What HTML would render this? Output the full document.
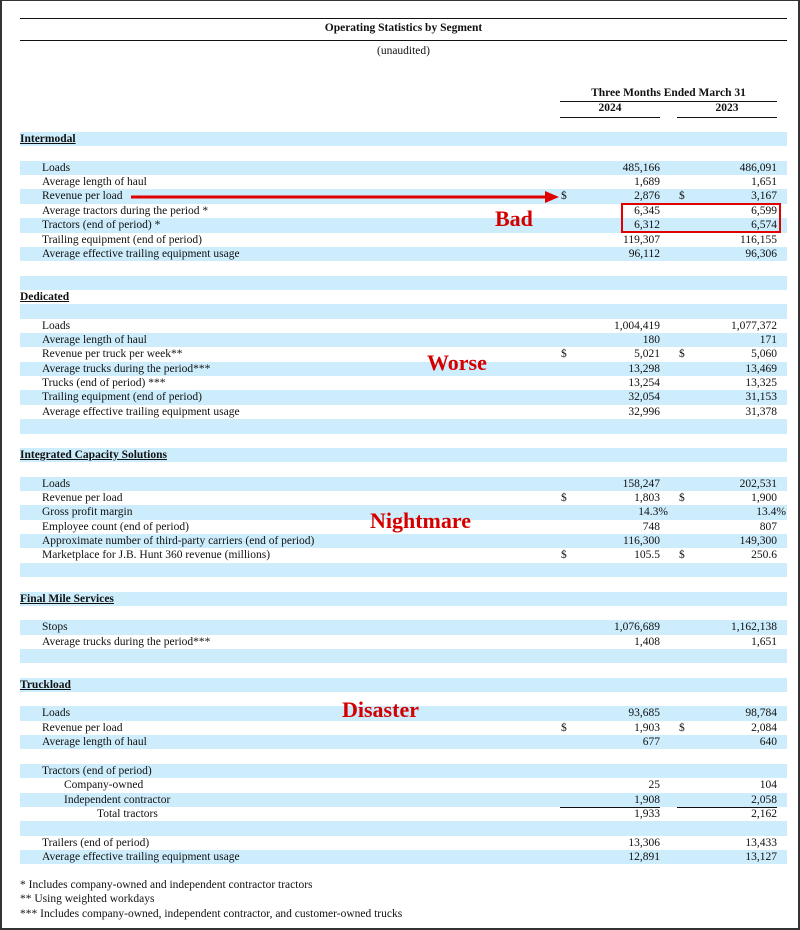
<!DOCTYPE html>
<html><head><meta charset="utf-8"><style>
*{margin:0;padding:0;box-sizing:border-box}
body{width:800px;height:930px;background:#fff;position:relative;overflow:hidden;font-family:"Liberation Serif",serif;font-size:11.5px;color:#111}
#frame{position:absolute;left:0;top:0;width:800px;height:930px;border:2px solid #333;border-top:1px solid #333}
.a{position:absolute;white-space:nowrap}
#rows{position:absolute;left:20px;top:132px;width:767px}
.r{height:14.36px;position:relative;line-height:14.36px}
.b{background:#cdedfc}
.l{position:absolute;left:22px}
.h{position:absolute;left:0;font-weight:bold;text-decoration:underline}
.i{position:absolute;left:44px}
.t{position:absolute;left:77px}
.d1{position:absolute;left:541px}
.d2{position:absolute;left:659px}
.n1{position:absolute;right:127px}
.n2{position:absolute;right:10px}
.ul1,.ul2{position:absolute;top:0;height:1px;background:#111;width:100px}
.ul1{left:540px}.ul2{left:657px}
.red{position:absolute;color:#d40000;font-weight:bold;font-size:22px;font-family:"Liberation Serif",serif}
</style></head><body>
<div id="frame"></div>
<div class="a" style="left:20px;top:18px;width:767px;height:1px;background:#111"></div>
<div class="a" style="left:20px;top:22px;width:767px;text-align:center;font-weight:bold">Operating Statistics by Segment</div>
<div class="a" style="left:20px;top:40px;width:767px;height:1px;background:#111"></div>
<div class="a" style="left:20px;top:45px;width:767px;text-align:center">(unaudited)</div>
<div class="a" style="left:560px;top:87px;width:217px;text-align:center;font-weight:bold">Three Months Ended March 31</div>
<div class="a" style="left:560px;top:101px;width:217px;height:1px;background:#111"></div>
<div class="a" style="left:560px;top:102px;width:100px;text-align:center;font-weight:bold">2024</div>
<div class="a" style="left:677px;top:102px;width:100px;text-align:center;font-weight:bold">2023</div>
<div class="a" style="left:560px;top:117px;width:100px;height:1px;background:#111"></div>
<div class="a" style="left:677px;top:117px;width:100px;height:1px;background:#111"></div>
<div id="rows">
<div class="r b"><span class="h">Intermodal</span></div>
<div class="r"></div>
<div class="r b"><span class="l">Loads</span><span class="n1">485,166</span><span class="n2">486,091</span></div>
<div class="r"><span class="l">Average length of haul</span><span class="n1">1,689</span><span class="n2">1,651</span></div>
<div class="r b"><span class="l">Revenue per load</span><span class="d1">$</span><span class="n1">2,876</span><span class="d2">$</span><span class="n2">3,167</span></div>
<div class="r"><span class="l">Average tractors during the period *</span><span class="n1">6,345</span><span class="n2">6,599</span></div>
<div class="r b"><span class="l">Tractors (end of period) *</span><span class="n1">6,312</span><span class="n2">6,574</span></div>
<div class="r"><span class="l">Trailing equipment (end of period)</span><span class="n1">119,307</span><span class="n2">116,155</span></div>
<div class="r b"><span class="l">Average effective trailing equipment usage</span><span class="n1">96,112</span><span class="n2">96,306</span></div>
<div class="r"></div>
<div class="r b"></div>
<div class="r"><span class="h">Dedicated</span></div>
<div class="r b"></div>
<div class="r"><span class="l">Loads</span><span class="n1">1,004,419</span><span class="n2">1,077,372</span></div>
<div class="r b"><span class="l">Average length of haul</span><span class="n1">180</span><span class="n2">171</span></div>
<div class="r"><span class="l">Revenue per truck per week**</span><span class="d1">$</span><span class="n1">5,021</span><span class="d2">$</span><span class="n2">5,060</span></div>
<div class="r b"><span class="l">Average trucks during the period***</span><span class="n1">13,298</span><span class="n2">13,469</span></div>
<div class="r"><span class="l">Trucks (end of period) ***</span><span class="n1">13,254</span><span class="n2">13,325</span></div>
<div class="r b"><span class="l">Trailing equipment (end of period)</span><span class="n1">32,054</span><span class="n2">31,153</span></div>
<div class="r"><span class="l">Average effective trailing equipment usage</span><span class="n1">32,996</span><span class="n2">31,378</span></div>
<div class="r b"></div>
<div class="r"></div>
<div class="r b"><span class="h">Integrated Capacity Solutions</span></div>
<div class="r"></div>
<div class="r b"><span class="l">Loads</span><span class="n1">158,247</span><span class="n2">202,531</span></div>
<div class="r"><span class="l">Revenue per load</span><span class="d1">$</span><span class="n1">1,803</span><span class="d2">$</span><span class="n2">1,900</span></div>
<div class="r b"><span class="l">Gross profit margin</span><span class="n1" style="right:119px">14.3%</span><span class="n2" style="right:1px">13.4%</span></div>
<div class="r"><span class="l">Employee count (end of period)</span><span class="n1">748</span><span class="n2">807</span></div>
<div class="r b"><span class="l">Approximate number of third-party carriers (end of period)</span><span class="n1">116,300</span><span class="n2">149,300</span></div>
<div class="r"><span class="l">Marketplace for J.B. Hunt 360 revenue (millions)</span><span class="d1">$</span><span class="n1">105.5</span><span class="d2">$</span><span class="n2">250.6</span></div>
<div class="r b"></div>
<div class="r"></div>
<div class="r b"><span class="h">Final Mile Services</span></div>
<div class="r"></div>
<div class="r b"><span class="l">Stops</span><span class="n1">1,076,689</span><span class="n2">1,162,138</span></div>
<div class="r"><span class="l">Average trucks during the period***</span><span class="n1">1,408</span><span class="n2">1,651</span></div>
<div class="r b"></div>
<div class="r"></div>
<div class="r b"><span class="h">Truckload</span></div>
<div class="r"></div>
<div class="r b"><span class="l">Loads</span><span class="n1">93,685</span><span class="n2">98,784</span></div>
<div class="r"><span class="l">Revenue per load</span><span class="d1">$</span><span class="n1">1,903</span><span class="d2">$</span><span class="n2">2,084</span></div>
<div class="r b"><span class="l">Average length of haul</span><span class="n1">677</span><span class="n2">640</span></div>
<div class="r"></div>
<div class="r b"><span class="l">Tractors (end of period)</span></div>
<div class="r"><span class="i">Company-owned</span><span class="n1">25</span><span class="n2">104</span></div>
<div class="r b"><span class="i">Independent contractor</span><span class="n1">1,908</span><span class="n2">2,058</span></div>
<div class="r"><span class="ul1"></span><span class="ul2"></span><span class="t">Total tractors</span><span class="n1">1,933</span><span class="n2">2,162</span></div>
<div class="r b"></div>
<div class="r"><span class="l">Trailers (end of period)</span><span class="n1">13,306</span><span class="n2">13,433</span></div>
<div class="r b"><span class="l">Average effective trailing equipment usage</span><span class="n1">12,891</span><span class="n2">13,127</span></div>
</div>
<div class="a" style="left:20px;top:879px">* Includes company-owned and independent contractor tractors</div>
<div class="a" style="left:20px;top:893px">** Using weighted workdays</div>
<div class="a" style="left:20px;top:908px">*** Includes company-owned, independent contractor, and customer-owned trucks</div>
<svg class="a" style="left:0;top:0" width="800" height="930">
<line x1="131" y1="197" x2="548" y2="197" stroke="#e00000" stroke-width="3"/>
<polygon points="545,191 559,197 545,203" fill="#e00000"/>
<rect x="622" y="204" width="158" height="28" fill="none" stroke="#e00000" stroke-width="2"/>
</svg>
<div class="red" style="left:495px;top:206px">Bad</div>
<div class="red" style="left:427px;top:350px">Worse</div>
<div class="red" style="left:370px;top:508px">Nightmare</div>
<div class="red" style="left:342px;top:697px">Disaster</div>
</body></html>
